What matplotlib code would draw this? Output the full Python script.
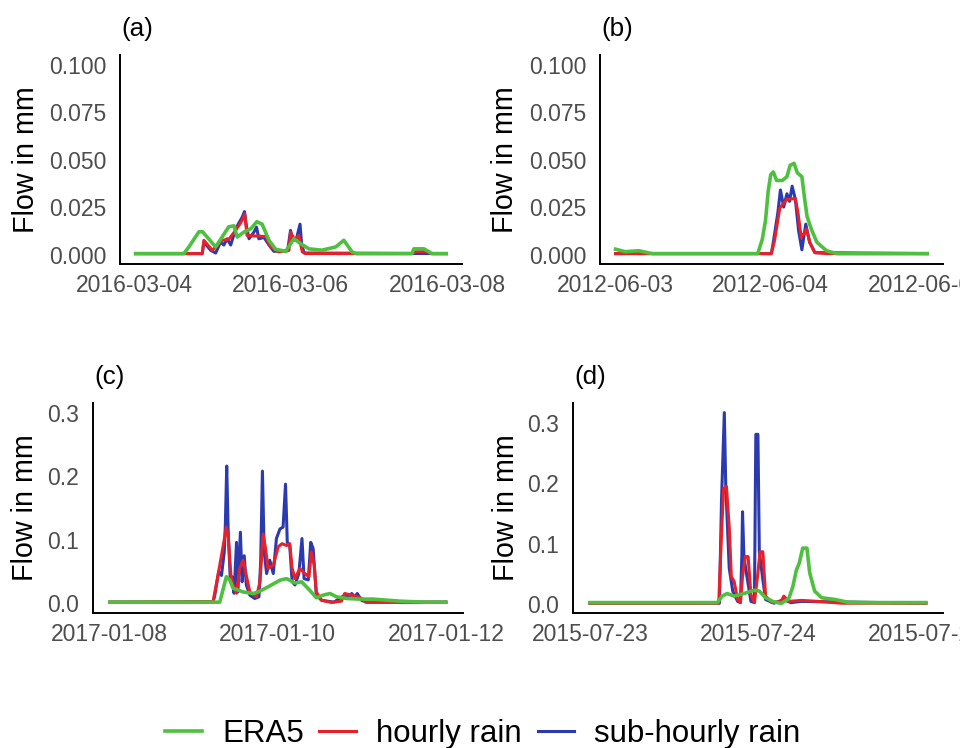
import matplotlib

matplotlib.use("Agg")
import matplotlib.dates as mdates
import matplotlib.pyplot as plt
import numpy as np
from matplotlib.lines import Line2D

plt.rcParams["font.family"] = ["Liberation Sans", "DejaVu Sans"]

# (hours since event start, flow in mm)
A_ERA5 = [(0.5, 0.0005), (15.3, 0.0005), (16.8, 0.004), (19.9, 0.012), (21.0, 0.012),
          (25.0, 0.004), (29.0, 0.0146), (30.6, 0.0151), (31.6, 0.0092), (33.6, 0.0118),
          (35.7, 0.0135), (37.6, 0.0173), (39.2, 0.016), (41.3, 0.0075), (43.3, 0.0028),
          (46.4, 0.0017), (48.9, 0.0083), (51.0, 0.0057), (53.5, 0.003), (57.5, 0.0023),
          (61.7, 0.004), (64.2, 0.0075), (66.7, 0.0014), (68.0, 0.0005), (85.0, 0.0005),
          (85.6, 0.003), (88.7, 0.003), (91.2, 0.0005), (95.5, 0.0005)]
A_HOURLY = [(0.5, 0.0005), (20.9, 0.0005), (21.4, 0.0075), (24.0, 0.0022), (27.0, 0.0075),
            (29.0, 0.008), (31.1, 0.0127), (33.1, 0.018), (33.9, 0.0213), (34.6, 0.010),
            (40.3, 0.0095), (41.8, 0.004), (44.3, 0.0014), (47.4, 0.0022), (47.9, 0.0118),
            (49.2, 0.0075), (50.4, 0.010), (51.5, 0.0014), (52.5, 0.0005), (85.0, 0.0005),
            (86.2, 0.0015), (89.6, 0.0015), (90.7, 0.0005), (95.5, 0.0005)]
A_SUBHOURLY = [(0.5, 0.0005), (20.9, 0.0005), (21.4, 0.0065), (23.5, 0.0022), (25.0, 0.0008),
               (26.5, 0.0066), (27.5, 0.005), (28.5, 0.0083), (29.6, 0.005), (31.1, 0.0135),
               (32.1, 0.0166), (33.1, 0.0196), (33.8, 0.0226), (34.4, 0.015), (35.2, 0.0083),
               (36.7, 0.0118), (37.5, 0.0144), (38.2, 0.0083), (39.8, 0.009), (41.3, 0.005),
               (42.8, 0.0017), (47.0, 0.002), (47.9, 0.0127), (48.6, 0.0075), (49.8, 0.009),
               (50.8, 0.016), (51.3, 0.005), (52.1, 0.0008), (95.5, 0.0005)]

B_ERA5 = [(0.1, 0.0028), (1.6, 0.0015), (3.7, 0.002), (5.3, 0.0008), (5.8, 0.0005),
          (22.0, 0.0005), (22.7, 0.008), (23.2, 0.018), (23.6, 0.033), (24.0, 0.042),
          (24.4, 0.0435), (24.9, 0.039), (25.8, 0.039), (26.5, 0.041), (27.0, 0.047),
          (27.6, 0.048), (28.1, 0.043), (28.8, 0.041), (29.2, 0.030), (29.6, 0.020),
          (30.3, 0.013), (31.1, 0.0065), (32.6, 0.002), (34.2, 0.0005), (48.1, 0.0005)]
B_HOURLY = [(0.1, 0.0005), (24.1, 0.0005), (24.6, 0.0075), (25.4, 0.0245), (26.5, 0.029),
            (27.8, 0.0295), (28.2, 0.022), (28.7, 0.009), (29.3, 0.012), (29.5, 0.0135),
            (30.0, 0.0065), (30.8, 0.001), (32.6, 0.0005), (48.1, 0.0005)]
B_SUBHOURLY = [(0.1, 0.0005), (24.1, 0.0005), (24.4, 0.0065), (25.1, 0.022), (25.5, 0.034),
               (26.0, 0.025), (26.5, 0.032), (26.9, 0.028), (27.3, 0.036), (27.8, 0.029),
               (28.3, 0.0125), (28.8, 0.0025), (29.4, 0.016), (30.0, 0.0065), (30.8, 0.001),
               (48.1, 0.0005)]

C_ERA5 = [(0.0, 0.002), (31.4, 0.002), (32.4, 0.023), (33.3, 0.042), (34.3, 0.0365),
          (35.2, 0.024), (38.1, 0.018), (41.0, 0.0156), (42.9, 0.0193), (45.7, 0.0276),
          (48.6, 0.0365), (50.5, 0.039), (52.9, 0.032), (54.8, 0.034), (57.1, 0.0208),
          (59.0, 0.0089), (60.9, 0.013), (62.9, 0.0156), (64.8, 0.0104), (67.6, 0.0078),
          (71.4, 0.0068), (75.2, 0.0068), (82.9, 0.0036), (90.0, 0.002), (96.0, 0.002)]
C_HOURLY = [(0.0, 0.002), (29.5, 0.003), (30.9, 0.044), (32.4, 0.091), (33.3, 0.12),
            (33.8, 0.107), (34.6, 0.044), (35.5, 0.023), (36.2, 0.016), (37.1, 0.055),
            (38.1, 0.068), (39.0, 0.044), (40.0, 0.018), (41.9, 0.0104), (42.9, 0.034),
            (43.8, 0.109), (44.5, 0.086), (45.2, 0.055), (46.7, 0.060), (48.1, 0.089),
            (49.2, 0.094), (50.5, 0.091), (51.4, 0.094), (52.1, 0.055), (52.9, 0.039),
            (54.3, 0.055), (55.7, 0.047), (56.9, 0.042), (57.6, 0.081), (58.4, 0.060),
            (59.0, 0.018), (60.5, 0.005), (63.3, 0.0016), (66.2, 0.0036), (67.1, 0.0156),
            (69.1, 0.013), (71.0, 0.0104), (71.9, 0.0078), (73.3, 0.0016), (96.0, 0.002)]
C_SUBHOURLY = [(0.0, 0.002), (29.5, 0.002), (30.0, 0.013), (31.1, 0.050), (31.9, 0.044),
               (32.7, 0.081), (33.0, 0.122), (33.4, 0.216), (33.8, 0.117), (34.4, 0.039),
               (34.9, 0.042), (35.5, 0.016), (36.2, 0.096), (36.6, 0.018), (37.3, 0.112),
               (37.8, 0.034), (38.4, 0.075), (39.0, 0.029), (40.0, 0.013), (41.4, 0.0078),
               (42.6, 0.0104), (43.1, 0.065), (43.6, 0.208), (44.1, 0.081), (44.8, 0.047),
               (45.7, 0.068), (46.7, 0.047), (47.6, 0.102), (48.6, 0.117), (49.5, 0.120),
               (50.2, 0.1875), (50.7, 0.096), (51.4, 0.091), (52.1, 0.034), (52.9, 0.029),
               (54.0, 0.047), (54.9, 0.102), (55.5, 0.039), (56.7, 0.037), (57.4, 0.096),
               (58.1, 0.086), (59.0, 0.013), (60.5, 0.005), (64.0, 0.002), (67.1, 0.013),
               (68.4, 0.0104), (69.1, 0.0156), (70.0, 0.0104), (70.7, 0.0156), (71.9, 0.005),
               (73.3, 0.002), (96.0, 0.002)]

D_ERA5 = [(0.0, 0.003), (18.2, 0.003), (18.9, 0.0137), (19.6, 0.018), (20.6, 0.0137),
          (22.0, 0.018), (23.5, 0.0235), (24.2, 0.022), (25.1, 0.011), (26.1, 0.005),
          (27.3, 0.0016), (28.4, 0.0093), (29.0, 0.030), (29.5, 0.057), (29.9, 0.068),
          (30.4, 0.093), (31.0, 0.093), (31.4, 0.052), (32.1, 0.022), (33.1, 0.011),
          (35.0, 0.0082), (36.9, 0.0035), (39.8, 0.003), (48.0, 0.003)]
D_HOURLY = [(0.0, 0.002), (18.4, 0.002), (18.8, 0.118), (19.1, 0.191), (19.5, 0.195),
            (19.9, 0.128), (20.2, 0.046), (20.6, 0.038), (21.1, 0.008), (21.5, 0.003),
            (21.8, 0.046), (22.2, 0.079), (22.6, 0.079), (23.0, 0.016), (23.5, 0.003),
            (24.0, 0.052), (24.3, 0.087), (24.7, 0.087), (25.1, 0.0137), (26.0, 0.003),
            (27.3, 0.005), (27.7, 0.0137), (28.4, 0.005), (30.2, 0.0066), (32.6, 0.005),
            (35.9, 0.002), (48.0, 0.002)]
D_SUBHOURLY = [(0.0, 0.002), (18.5, 0.002), (18.8, 0.172), (19.2, 0.317), (19.4, 0.198),
               (19.9, 0.060), (20.4, 0.022), (21.1, 0.005), (21.5, 0.003), (21.7, 0.079),
               (21.8, 0.153), (22.0, 0.079), (22.5, 0.041), (23.0, 0.005), (23.5, 0.003),
               (23.7, 0.281), (24.0, 0.281), (24.2, 0.087), (24.7, 0.041), (25.1, 0.008),
               (26.3, 0.002), (27.7, 0.008), (28.7, 0.003), (30.2, 0.005), (48.0, 0.002)]

LABELS = ["ERA5", "hourly rain", "sub-hourly rain"]
COLORS = {"ERA5": "#4FBF3F", "hourly rain": "#E8202A", "sub-hourly rain": "#2B3AAE"}
WIDTHS = {"ERA5": 2.6, "hourly rain": 2.2, "sub-hourly rain": 2.2}

PANELS = [
    {"tag": "(a)", "start": "2016-03-04", "series": (A_ERA5, A_HOURLY, A_SUBHOURLY),
     "ticks": ["2016-03-04", "2016-03-06", "2016-03-08"], "ylim": (0.0, 0.1),
     "yticks": [0.0, 0.025, 0.05, 0.075, 0.1], "yfmt": "{:.3f}",
     "rect": [0.125, 0.647, 0.356, 0.2794], "ylab_x": -0.235},
    {"tag": "(b)", "start": "2012-06-03", "series": (B_ERA5, B_HOURLY, B_SUBHOURLY),
     "ticks": ["2012-06-03", "2012-06-04", "2012-06-05"], "ylim": (0.0, 0.1),
     "yticks": [0.0, 0.025, 0.05, 0.075, 0.1], "yfmt": "{:.3f}",
     "rect": [0.625, 0.647, 0.357, 0.2794], "ylab_x": -0.235},
    {"tag": "(c)", "start": "2017-01-08", "series": (C_ERA5, C_HOURLY, C_SUBHOURLY),
     "ticks": ["2017-01-08", "2017-01-10", "2017-01-12"], "ylim": (0.0, 0.3),
     "yticks": [0.0, 0.1, 0.2, 0.3], "yfmt": "{:.1f}",
     "rect": [0.0969, 0.1805, 0.385, 0.2807], "ylab_x": -0.145},
    {"tag": "(d)", "start": "2015-07-23", "series": (D_ERA5, D_HOURLY, D_SUBHOURLY),
     "ticks": ["2015-07-23", "2015-07-24", "2015-07-25"], "ylim": None,
     "yticks": [0.0, 0.1, 0.2, 0.3], "yfmt": "{:.1f}",
     "rect": [0.597, 0.1805, 0.385, 0.2807], "ylab_x": -0.145},
]


def to_times(start, pts):
    hours = np.array([p[0] for p in pts])
    minutes = np.round(hours * 60).astype(int).astype("timedelta64[m]")
    return np.datetime64(start) + minutes


def expand(lo, hi, frac=0.05):
    pad = (hi - lo) * frac
    return lo - pad, hi + pad


fig = plt.figure(figsize=(9.6, 7.48), dpi=100)

for panel in PANELS:
    ax = fig.add_axes(panel["rect"])
    era5, hourly, subhourly = panel["series"]
    tmin, tmax, vmin, vmax = None, None, np.inf, -np.inf
    # draw order: sub-hourly underneath, ERA5 on top
    for label, pts in [("sub-hourly rain", subhourly), ("hourly rain", hourly), ("ERA5", era5)]:
        t = to_times(panel["start"], pts)
        v = np.array([p[1] for p in pts])
        ax.plot(t, v, color=COLORS[label], linewidth=WIDTHS[label], solid_joinstyle="round")
        tmin = t.min() if tmin is None else min(tmin, t.min())
        tmax = t.max() if tmax is None else max(tmax, t.max())
        vmin, vmax = min(vmin, v.min()), max(vmax, v.max())

    x0, x1 = mdates.date2num(tmin), mdates.date2num(tmax)
    ax.set_xlim(*expand(x0, x1))
    if panel["ylim"] is None:
        ax.set_ylim(*expand(vmin, vmax))
    else:
        ax.set_ylim(*expand(*panel["ylim"]))

    ax.set_xticks([mdates.date2num(np.datetime64(d)) for d in panel["ticks"]])
    ax.set_xticklabels(panel["ticks"])
    ax.set_yticks(panel["yticks"])
    ax.set_yticklabels([panel["yfmt"].format(y) for y in panel["yticks"]])
    ax.tick_params(axis="both", length=0, labelsize=16.5, labelcolor="#4D4D4D")
    ax.tick_params(axis="x", pad=7)
    ax.tick_params(axis="y", pad=10)

    for side in ("top", "right"):
        ax.spines[side].set_visible(False)
    for side in ("left", "bottom"):
        ax.spines[side].set_linewidth(1.4)
        ax.spines[side].set_color("black")

    ax.set_ylabel("Flow in mm", fontsize=20.7, color="black")
    ax.yaxis.set_label_coords(panel["ylab_x"], 0.5)
    ax.text(0.004, 1.125, panel["tag"], transform=ax.transAxes, ha="left", va="center",
            fontsize=18.8, color="black")

handles = [Line2D([0], [0], color=COLORS[l], linewidth=WIDTHS[l]) for l in LABELS]
fig.legend(handles, LABELS, loc="center", bbox_to_anchor=(0.503, 0.0187), ncol=3,
           frameon=False, fontsize=22.5, handlelength=1.18, handletextpad=0.64,
           columnspacing=0.5, borderaxespad=0)

fig.savefig("out.png", dpi=100)
